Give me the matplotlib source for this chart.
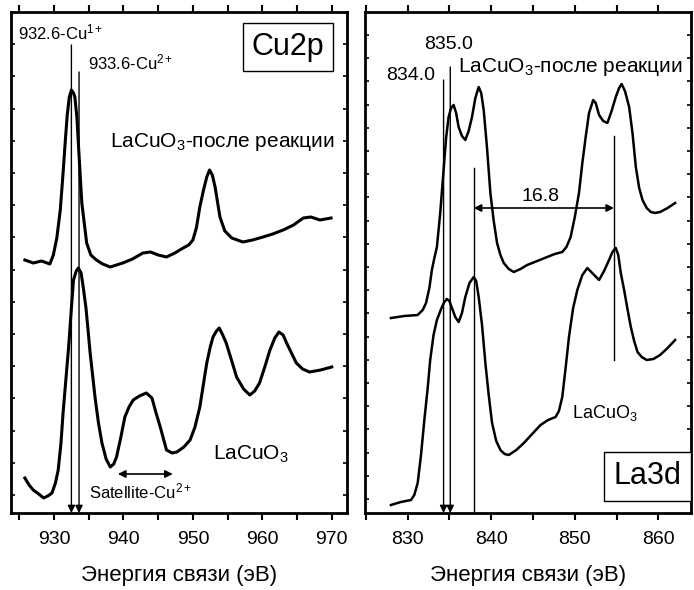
import matplotlib
matplotlib.use("Agg")
import matplotlib.pyplot as plt

plt.rcParams['font.family'] = ['Liberation Sans', 'DejaVu Sans']
plt.rcParams['mathtext.fontset'] = 'custom'
plt.rcParams['mathtext.rm'] = 'Liberation Sans'
plt.rcParams['mathtext.it'] = 'Liberation Sans:italic'

# Cu2p spectra (binding energy eV, intensity a.u.)
cu_after_x = [925.8, 927.0, 928.2, 929.4, 929.9, 930.4, 930.9, 931.3, 931.6, 931.9, 932.2, 932.5,
              932.8, 933.0, 933.3, 933.5, 934.0, 934.7, 935.3, 936.1, 937.0, 938.1, 939.0, 939.9,
              941.3, 942.8, 943.9, 945.0, 946.2, 947.4, 948.6, 949.4, 950.0, 950.5, 951.0, 951.5,
              952.0, 952.4, 952.8, 953.2, 953.9, 954.6, 955.6, 957.2, 958.6, 960.1, 961.5, 963.0,
              964.5, 965.9, 967.0, 968.3, 969.9]
cu_after_y = [253, 250, 252, 249, 258, 275, 303, 340, 370, 398, 416, 423,
              420, 416, 395, 370, 310, 270, 258, 253, 249, 246, 248, 250,
              254, 260, 261, 258, 256, 260, 265, 268, 273, 285, 306, 322,
              336, 343, 338, 326, 296, 282, 275, 271, 273, 276, 279, 283,
              288, 295, 296, 293, 295]
cu_fresh_x = [925.8, 926.4, 927.0, 927.8, 928.5, 929.1, 929.7, 930.2, 930.6, 931.0, 931.3, 931.7,
              932.1, 932.5, 932.8, 933.2, 933.5, 933.9, 934.2, 934.6, 934.9, 935.2, 935.6, 935.9,
              936.4, 936.9, 937.5, 938.1, 938.6, 939.0, 939.6, 940.2, 940.8, 941.4, 942.3, 943.3,
              944.1, 944.7, 945.3, 946.2, 947.0, 947.7, 948.7, 949.6, 950.3, 951.0, 951.5, 952.0,
              952.5, 952.9, 953.4, 953.8, 954.3, 954.8, 955.6, 956.3, 957.3, 958.2, 958.9, 959.6,
              960.4, 961.1, 961.8, 962.4, 963.0, 963.5, 964.2, 964.9, 965.8, 966.8, 968.4, 970.0]
cu_fresh_y = [35, 28, 23, 19, 15, 17, 20, 30, 43, 70, 100, 133,
              166, 205, 233, 242, 245, 240, 226, 205, 183, 160, 135, 116,
              90, 70, 54, 46, 49, 56, 75, 96, 106, 113, 117, 120,
              115, 100, 86, 63, 60, 61, 66, 73, 86, 106, 128, 150,
              166, 176, 182, 185, 178, 170, 152, 136, 124, 118, 122, 130,
              147, 163, 175, 181, 178, 170, 160, 150, 144, 141, 143, 146]

# La3d spectra
la_after_x = [828.0, 829.6, 831.2, 831.8, 832.2, 832.6, 832.9, 833.2, 833.5, 833.9, 834.3, 834.6,
              834.9, 835.2, 835.5, 835.8, 836.1, 836.5, 836.9, 837.3, 837.7, 838.1, 838.5, 838.8,
              839.1, 839.5, 839.9, 840.3, 840.7, 841.1, 841.5, 842.1, 842.7, 843.5, 844.3, 845.5,
              846.7, 847.6, 848.5, 849.0, 849.5, 850.0, 850.5, 850.9, 851.3, 851.7, 852.2, 852.5,
              852.9, 853.4, 853.9, 854.4, 854.9, 855.3, 855.6, 856.0, 856.5, 856.9, 857.3, 857.7,
              858.1, 858.6, 859.1, 859.6, 860.2, 861.1, 862.0]
la_after_y = [195, 197, 198, 203, 210, 225, 243, 255, 266, 300, 343, 375,
              396, 405, 408, 400, 386, 377, 373, 382, 396, 415, 426, 420,
              403, 365, 320, 292, 270, 258, 250, 244, 241, 244, 248, 252,
              256, 259, 261, 266, 276, 296, 320, 350, 376, 400, 413, 410,
              398, 392, 390, 402, 416, 425, 429, 422, 406, 380, 346, 325,
              313, 305, 301, 300, 301, 305, 310]
la_fresh_x = [828.0, 829.2, 830.4, 830.8, 831.2, 831.6, 832.0, 832.4, 832.7, 833.1, 833.5, 834.1,
              834.4, 834.7, 835.0, 835.3, 835.7, 836.1, 836.5, 836.9, 837.4, 837.9, 838.2, 838.5,
              838.9, 839.3, 839.7, 840.1, 840.6, 841.1, 841.6, 842.1, 843.0, 843.9, 844.9, 845.9,
              846.8, 847.7, 848.1, 848.5, 848.9, 849.3, 849.8, 850.3, 850.9, 851.5, 852.2, 852.9,
              853.5, 854.1, 854.5, 854.9, 855.2, 855.5, 855.9, 856.3, 856.7, 857.1, 857.5, 858.0,
              858.6, 859.4, 860.2, 861.1, 862.0]
la_fresh_y = [8, 11, 13, 18, 30, 58, 93, 125, 153, 178, 193, 206,
              211, 214, 212, 205, 196, 191, 200, 216, 230, 236, 232, 216,
              188, 150, 118, 90, 72, 63, 59, 58, 63, 70, 79, 88,
              93, 96, 102, 116, 145, 176, 205, 223, 238, 245, 239, 233,
              242, 253, 261, 265, 258, 240, 223, 204, 186, 172, 161, 156,
              153, 154, 158, 165, 173]

# reference lines
cu_lines = [932.5, 933.6]
cu_line_tops = [468, 441]
la_arrow_lines = [834.3, 835.1]
la_arrow_tops = [433, 446]
la_split = [837.9, 854.7]

fig = plt.figure(figsize=(6.94, 5.90), dpi=100)
ax1 = fig.add_axes([11/694, 77/590, 336/694, 501/590])
ax2 = fig.add_axes([365/694, 77/590, 326/694, 501/590])

lw_axis = 2.0
for ax in (ax1, ax2):
    for s in ax.spines.values():
        s.set_linewidth(lw_axis)
    ax.set_ylim(0, 501)
    ax.tick_params(axis='x', which='both', direction='out', top=True, bottom=True,
                   length=5, width=1.5, labelsize=14, pad=8)
    ax.tick_params(axis='y', which='both', direction='in', left=True, right=True,
                   length=3, width=1.2, labelleft=False)
    ax.set_xlabel("Энергия связи (эВ)", fontsize=16, labelpad=12)

arrow_kw = dict(arrowstyle='-|>', color='black', lw=1.0, mutation_scale=11,
                shrinkA=0, shrinkB=0)
dbl_kw = dict(arrowstyle='<|-|>', color='black', lw=1.2, mutation_scale=11,
              shrinkA=0, shrinkB=0)

# ---- Cu2p panel
ax1.set_xlim(923.8, 972.2)
ax1.set_xticks([930, 940, 950, 960, 970])
ax1.set_xticks([925, 935, 945, 955, 965], minor=True)
ax1.set_yticks([18 + 32.2 * k for k in range(15)])
ax1.plot(cu_after_x, cu_after_y, color='black', lw=2.2)
ax1.plot(cu_fresh_x, cu_fresh_y, color='black', lw=2.2)
for xv, top in zip(cu_lines, cu_line_tops):
    ax1.annotate('', xy=(xv, 0), xytext=(xv, top), arrowprops=arrow_kw)
ax1.annotate('', xy=(947.1, 39), xytext=(939.2, 39), arrowprops=dbl_kw)

ax1.text(924.8, 481, "932.6-Cu$\\mathregular{^{1+}}$", fontsize=12, va='center')
ax1.text(934.9, 451, "933.6-Cu$\\mathregular{^{2+}}$", fontsize=12, va='center')
ax1.text(938.0, 366, "LaCuO$\\mathregular{_3}$-после реакции", fontsize=15, va='baseline')
ax1.text(952.9, 53, "LaCuO$\\mathregular{_3}$", fontsize=15, va='baseline')
ax1.text(935.1, 15, "Satellite-Cu$\\mathregular{^{2+}}$", fontsize=12, va='baseline')
ax1.text(963.7, 466, "Cu2p", fontsize=22, ha='center', va='center',
         bbox=dict(boxstyle='square,pad=0.3', fc='white', ec='black', lw=1.0))

# ---- La3d panel
ax2.set_xlim(824.9, 863.9)
ax2.set_xticks([830, 840, 850, 860])
ax2.set_xticks([825, 835, 845, 855], minor=True)
ax2.set_yticks([14 + 23.2 * k for k in range(21)])
ax2.plot(la_after_x, la_after_y, color='black', lw=1.8)
ax2.plot(la_fresh_x, la_fresh_y, color='black', lw=1.8)
for xv, top in zip(la_arrow_lines, la_arrow_tops):
    ax2.annotate('', xy=(xv, 0), xytext=(xv, top), arrowprops=arrow_kw)
ax2.plot([la_split[0], la_split[0]], [0, 345], color='black', lw=1.0)
ax2.plot([la_split[1], la_split[1]], [153, 377], color='black', lw=1.0)
ax2.annotate('', xy=(la_split[1], 305), xytext=(la_split[0], 305), arrowprops=dbl_kw)

ax2.text(832.0, 464, "835.0", fontsize=14, va='baseline')
ax2.text(827.4, 433, "834.0", fontsize=14, va='baseline')
ax2.text(836.0, 441, "LaCuO$\\mathregular{_3}$-после реакции", fontsize=15, va='baseline')
ax2.text(845.9, 312, "16.8", fontsize=14, ha='center', va='baseline')
ax2.text(849.7, 95, "LaCuO$\\mathregular{_3}$", fontsize=13, va='baseline')
t = ax2.text(858.7, 36.5, "La3d", fontsize=22, ha='center', va='center',
             bbox=dict(boxstyle='square,pad=0.3', fc='white', ec='black', lw=1.0))
t.set_clip_on(False)

fig.savefig("out.png", dpi=100)
